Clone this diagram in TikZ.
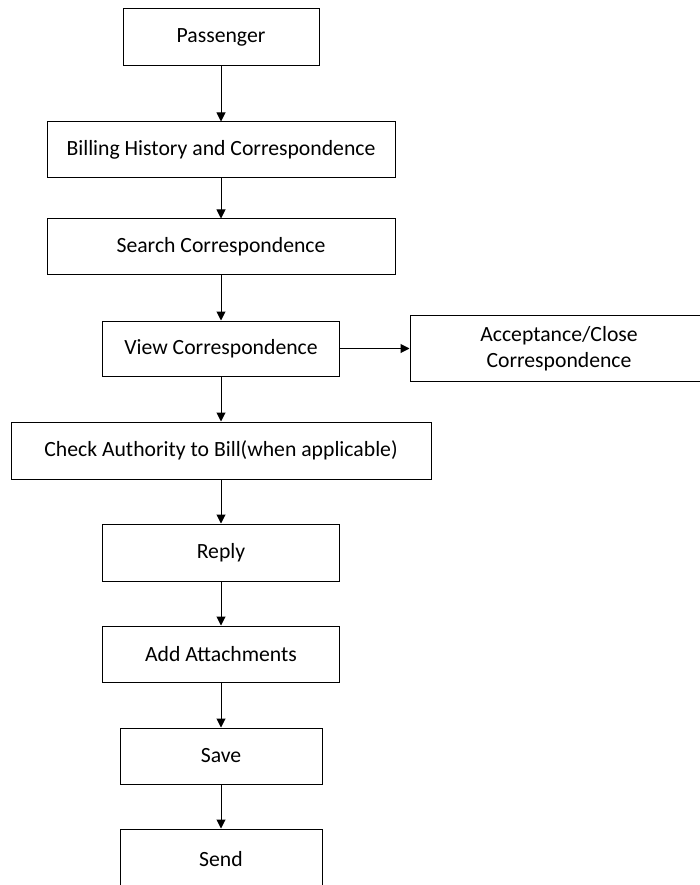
\documentclass[tikz,border=0pt]{standalone}
\usepackage{fontspec}
\setmainfont{Carlito}
\usetikzlibrary{arrows.meta,positioning}

\begin{document}
\begin{tikzpicture}[x=1pt,y=-1pt,
    proc/.style={draw,line width=1pt,rectangle,align=center,inner sep=0pt,
        font=\fontsize{21.7}{26.5}\selectfont},
    flow/.style={-{Triangle[length=9pt,width=9pt]},line width=1pt}]
    \useasboundingbox (0,0) rectangle (700,885);
    % main column
    \node[proc,minimum width=196,minimum height=57] (pass) at (221,37.5) {Passenger};
    \node[proc,minimum width=348,minimum height=56] (bill) at (221,150) {Billing History and Correspondence};
    \node[proc,minimum width=348,minimum height=55] (search) at (221,246.5) {Search Correspondence};
    \node[proc,minimum width=237,minimum height=55] (view) at (221,348.5) {View Correspondence};
    \node[proc,minimum width=298,minimum height=66] (accept) at (559,348.5) {Acceptance/Close\\Correspondence};
    \node[proc,minimum width=420,minimum height=57] (check) at (221,450.5) {Check Authority to Bill(when applicable)};
    \node[proc,minimum width=237,minimum height=57] (reply) at (221,552.5) {Reply};
    \node[proc,minimum width=237,minimum height=56] (attach) at (221,654) {Add Attachments};
    \node[proc,minimum width=202,minimum height=56] (save) at (221,756) {Save};
    \node[proc,minimum width=202,minimum height=60] (send) at (221,859) {Send};
    % connectors
    \draw[flow] (pass) -- (bill);
    \draw[flow] (bill) -- (search);
    \draw[flow] (search) -- (view);
    \draw[flow] (view) -- (accept);
    \draw[flow] (view) -- (check);
    \draw[flow] (check) -- (reply);
    \draw[flow] (reply) -- (attach);
    \draw[flow] (attach) -- (save);
    \draw[flow] (save) -- (send);
\end{tikzpicture}
\end{document}
